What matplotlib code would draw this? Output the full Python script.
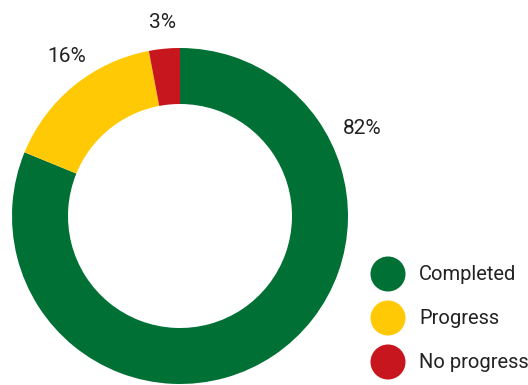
import matplotlib
matplotlib.use("Agg")
import matplotlib.pyplot as plt
from matplotlib.patches import Circle

categories = ["Completed", "Progress", "No progress"]
shares = [82, 16, 3]
colors = ["#007034", "#FFCA05", "#C8161E"]

plt.rcParams["font.family"] = ["Roboto", "DejaVu Sans"]

W, H = 528, 385
fig = plt.figure(figsize=(W / 100, H / 100), dpi=100)
ax = fig.add_axes([0, 0, 1, 1])

cx, cy, r = 180, H - 216, 168
ax.pie(
    shares,
    colors=colors,
    startangle=90,
    counterclock=False,
    center=(cx, cy),
    radius=r,
    wedgeprops=dict(width=56, linewidth=0),
    frame=True,
)
ax.set_xlim(0, W)
ax.set_ylim(0, H)
ax.set_aspect("equal")
ax.axis("off")

# percentage labels outside the ring
label_pos = [(362, H - 129), (67, H - 57), (163, H - 22)]
for v, (x, y) in zip(shares, label_pos):
    ax.text(x, y, f"{v}%", fontsize=15, color="#222222", ha="center", va="center")

# legend dots and names
for i, (name, c) in enumerate(zip(categories, colors)):
    y = H - (274 + i * 44)
    ax.add_patch(Circle((388, y), 17.5, color=c, lw=0))
    ax.text(419, y, name, fontsize=14.5, color="#222222", ha="left", va="center")

fig.savefig("out.png", dpi=100)
